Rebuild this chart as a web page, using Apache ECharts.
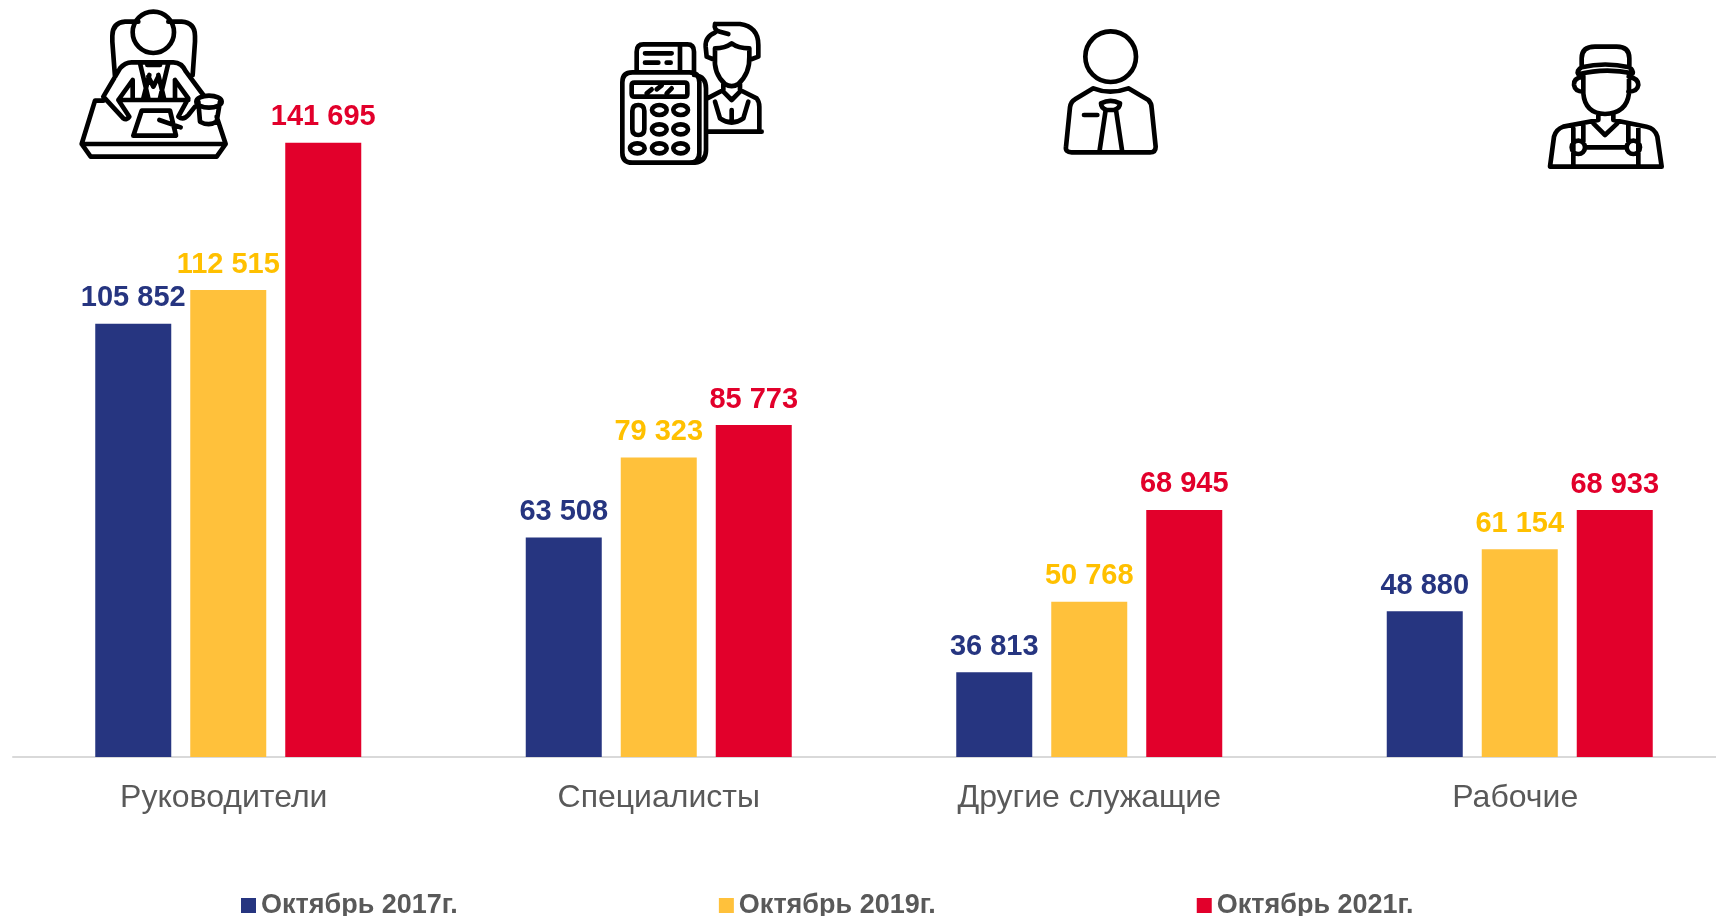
<!DOCTYPE html>
<html>
<head>
<meta charset="utf-8">
<title>chart</title>
<style>
  html, body { margin: 0; padding: 0; background: #fff; overflow: hidden; }
  #chart { width: 1716px; height: 916px; }
</style>
<script src="https://cdn.jsdelivr.net/npm/echarts@6/dist/echarts.min.js"></script>
</head>
<body>
<div id="chart"></div>
<script>
var categories = ['Руководители', 'Специалисты', 'Другие служащие', 'Рабочие'];
var oct2017 = [105852, 63508, 36813, 48880];
var oct2019 = [112515, 79323, 50768, 61154];
var oct2021 = [141695, 85773, 68945, 68933];

var blue = '#263580';
var yellow = '#FFC13B';
var yellowText = '#FFC000';
var red = '#E2002B';
var grey = '#595959';

// подписи 1 и 4 в оригинале чуть левее центра группы
var tickPad = [9, 0, 0, 9];

// пробел между тысячами
function fmt(p) {
  return String(p.value).replace(/\B(?=(\d{3})+$)/g, ' ');
}

function circle(cx, cy, r) {
  return 'M' + (cx - r) + ',' + cy + ' a' + r + ',' + r + ' 0 1,0 ' + (2 * r) + ',0 a' + r + ',' + r + ' 0 1,0 ' + (-2 * r) + ',0 ';
}
function oval(cx, cy, rx, ry) {
  return 'M' + (cx - rx) + ',' + cy + ' a' + rx + ',' + ry + ' 0 1,0 ' + (2 * rx) + ',0 a' + rx + ',' + ry + ' 0 1,0 ' + (-2 * rx) + ',0 ';
}

// иконки: координаты в масштабе 3x
var iconBoss = circle(280, 97, 62) +
  'M235,65 L195,65 Q157,68 157,108 L157,125 L165,230 M325,65 L365,65 Q405,68 405,108 L405,125 L398,225 ' +
  'M130,290 L180,205 Q195,187 215,187 L340,187 Q365,187 378,215 L430,285 ' +
  'M240,190 L265,295 M325,190 L300,295 M262,195 L300,195 M268,225 L250,295 M295,225 L312,295 M265,230 L280,260 L295,230 ' +
  'M130,290 L190,355 Q200,362 208,350 L175,300 L218,240 L218,300 M175,300 L385,300 ' +
  'M345,240 L385,295 L355,350 Q370,362 385,345 L405,320 M345,240 L345,300 ' +
  'M130,302 L105,302 L65,432 L92,470 L470,470 L497,432 L470,350 M65,432 L497,432 ' +
  'M245,332 L330,332 L348,407 L220,407 Z M298,360 L362,382 ' +
  oval(447, 305, 38, 18) + 'M415,305 L420,365 Q447,380 470,365 L480,305';

var iconClerk = 'M97,187 L268,187 Q298,187 298,217 L298,428 Q298,458 268,458 L97,458 Q67,458 67,428 L67,217 Q67,187 97,187 Z ' +
  'M285,195 Q318,200 318,235 L318,420 Q318,455 285,458 ' +
  'M103,218 L254,218 Q262,218 262,226 L262,252 Q262,260 254,260 L103,260 Q95,260 95,252 L95,226 Q95,218 103,218 Z ' +
  'M140,250 L155,238 M170,238 L185,226 M200,250 L215,235 ' +
  'M110,185 L110,125 Q110,103 130,103 L262,103 Q282,103 282,125 L282,195 M240,105 L240,180 ' +
  'M135,130 L215,130 M135,158 L175,158 M200,158 L212,158 ' +
  'M115,285 Q133,285 133,303 L133,357 Q133,375 115,375 Q97,375 97,357 L97,303 Q97,285 115,285 Z ' +
  oval(178, 300, 22, 15) + oval(242, 300, 22, 15) + oval(178, 358, 22, 15) + oval(242, 358, 22, 15) +
  oval(112, 415, 22, 15) + oval(178, 415, 22, 15) + oval(242, 415, 22, 15) +
  'M345,42 L420,42 Q475,50 475,105 L475,140 L448,150 M345,42 Q340,60 360,65 L385,72 M345,68 Q315,80 317,110 L320,140 L345,150 ' +
  'M345,140 L345,115 Q375,115 395,100 Q415,115 448,115 L448,140 ' +
  'M345,140 Q340,190 375,222 Q395,235 415,222 Q450,190 448,140 ' +
  'M322,265 L370,240 L370,222 M420,222 L420,240 L470,265 Q478,275 478,290 L478,365 M325,365 L485,365 ' +
  'M370,245 L395,270 L420,245 M345,275 L360,325 Q395,350 430,325 L445,275 M395,300 L395,330';

var iconOffice = circle(212, 110, 76) +
  'M160,205 Q210,225 265,205 L325,240 Q335,250 335,265 L347,380 Q347,397 330,397 L95,397 Q75,397 78,380 L90,262 Q92,245 105,238 Z ' +
  'M183,250 Q212,235 240,250 Q240,265 222,270 L200,270 Q183,265 183,250 Z ' +
  'M197,270 L178,397 M228,270 L247,397 M132,285 L172,285';

var iconWorker = 'M155,110 L155,85 Q155,50 195,50 L260,50 Q298,50 298,85 L298,110 ' +
  'M155,112 Q225,95 298,112 Q310,120 308,130 Q225,112 145,133 Q138,122 155,112 Z ' +
  'M158,140 Q130,145 132,165 Q135,185 160,185 M296,140 Q325,145 325,165 Q322,185 295,185 ' +
  'M160,135 L160,190 Q165,250 225,252 Q290,250 297,190 L297,135 ' +
  'M205,250 L205,270 L100,290 Q78,298 72,320 L60,410 L395,410 L382,320 Q375,295 350,290 L250,270 L250,250 ' +
  'M190,280 L225,315 L262,280 M130,295 L130,410 M160,285 L160,335 M295,285 L295,335 M325,295 L325,410 ' +
  circle(145, 352, 20) + circle(310, 352, 20) + 'M165,352 L290,352';

function icon(d, x, y, w, h) {
  var svg = '<svg xmlns="http://www.w3.org/2000/svg" width="' + w + '" height="' + h + '" viewBox="0 0 ' + (w * 3) + ' ' + (h * 3) + '">' +
    '<path d="' + d + '" fill="none" stroke="#000" stroke-width="14" stroke-linejoin="round" stroke-linecap="round"/></svg>';
  return {
    type: 'image',
    x: x,
    y: y,
    silent: true,
    style: { image: 'data:image/svg+xml;charset=utf-8,' + encodeURIComponent(svg), width: w, height: h }
  };
}

function barSeries(name, data, color, textColor) {
  return {
    name: name,
    type: 'bar',
    data: data,
    barWidth: 76,
    barGap: '25%',
    itemStyle: { color: color },
    label: {
      show: true,
      position: 'top',
      distance: 11,
      formatter: fmt,
      color: textColor,
      fontFamily: 'Liberation Sans',
      fontWeight: 'bold',
      fontSize: 29
    }
  };
}

var myChart = echarts.init(document.getElementById('chart'), null, { renderer: 'canvas' });
myChart.setOption({
  animation: false,
  backgroundColor: '#fff',
  // сетка шире холста: последняя категория обрезана справа
  grid: { left: 13, top: 0, width: 1722, height: 757, outerBoundsMode: 'none' },
  legend: {
    left: 236,
    top: 887,
    itemWidth: 15,
    itemHeight: 15,
    itemGap: 261,
    icon: 'rect',
    textStyle: { color: grey, fontFamily: 'Liberation Sans', fontWeight: 'bold', fontSize: 27 },
    data: ['Октябрь 2017г.', 'Октябрь 2019г.', 'Октябрь 2021г.']
  },
  xAxis: {
    type: 'category',
    data: categories.map(function (c, i) {
      return { value: c, textStyle: { padding: [0, tickPad[i], 0, 0] } };
    }),
    axisTick: { show: false },
    axisLine: { lineStyle: { color: '#D9D9D9', width: 2 } },
    axisLabel: { color: grey, fontFamily: 'Liberation Sans', fontSize: 32, margin: 25 }
  },
  yAxis: { type: 'value', min: 20000, max: 170000, show: false, splitLine: { show: false } },
  series: [
    barSeries('Октябрь 2017г.', oct2017, blue, blue),
    barSeries('Октябрь 2019г.', oct2019, yellow, yellowText),
    barSeries('Октябрь 2021г.', oct2021, red, red)
  ],
  graphic: [
    icon(iconBoss, 60, 0, 320, 180),
    icon(iconClerk, 600, 10, 200, 170),
    icon(iconOffice, 1040, 20, 130, 150),
    icon(iconWorker, 1530, 30, 150, 150)
  ]
});
</script>
</body>
</html>
